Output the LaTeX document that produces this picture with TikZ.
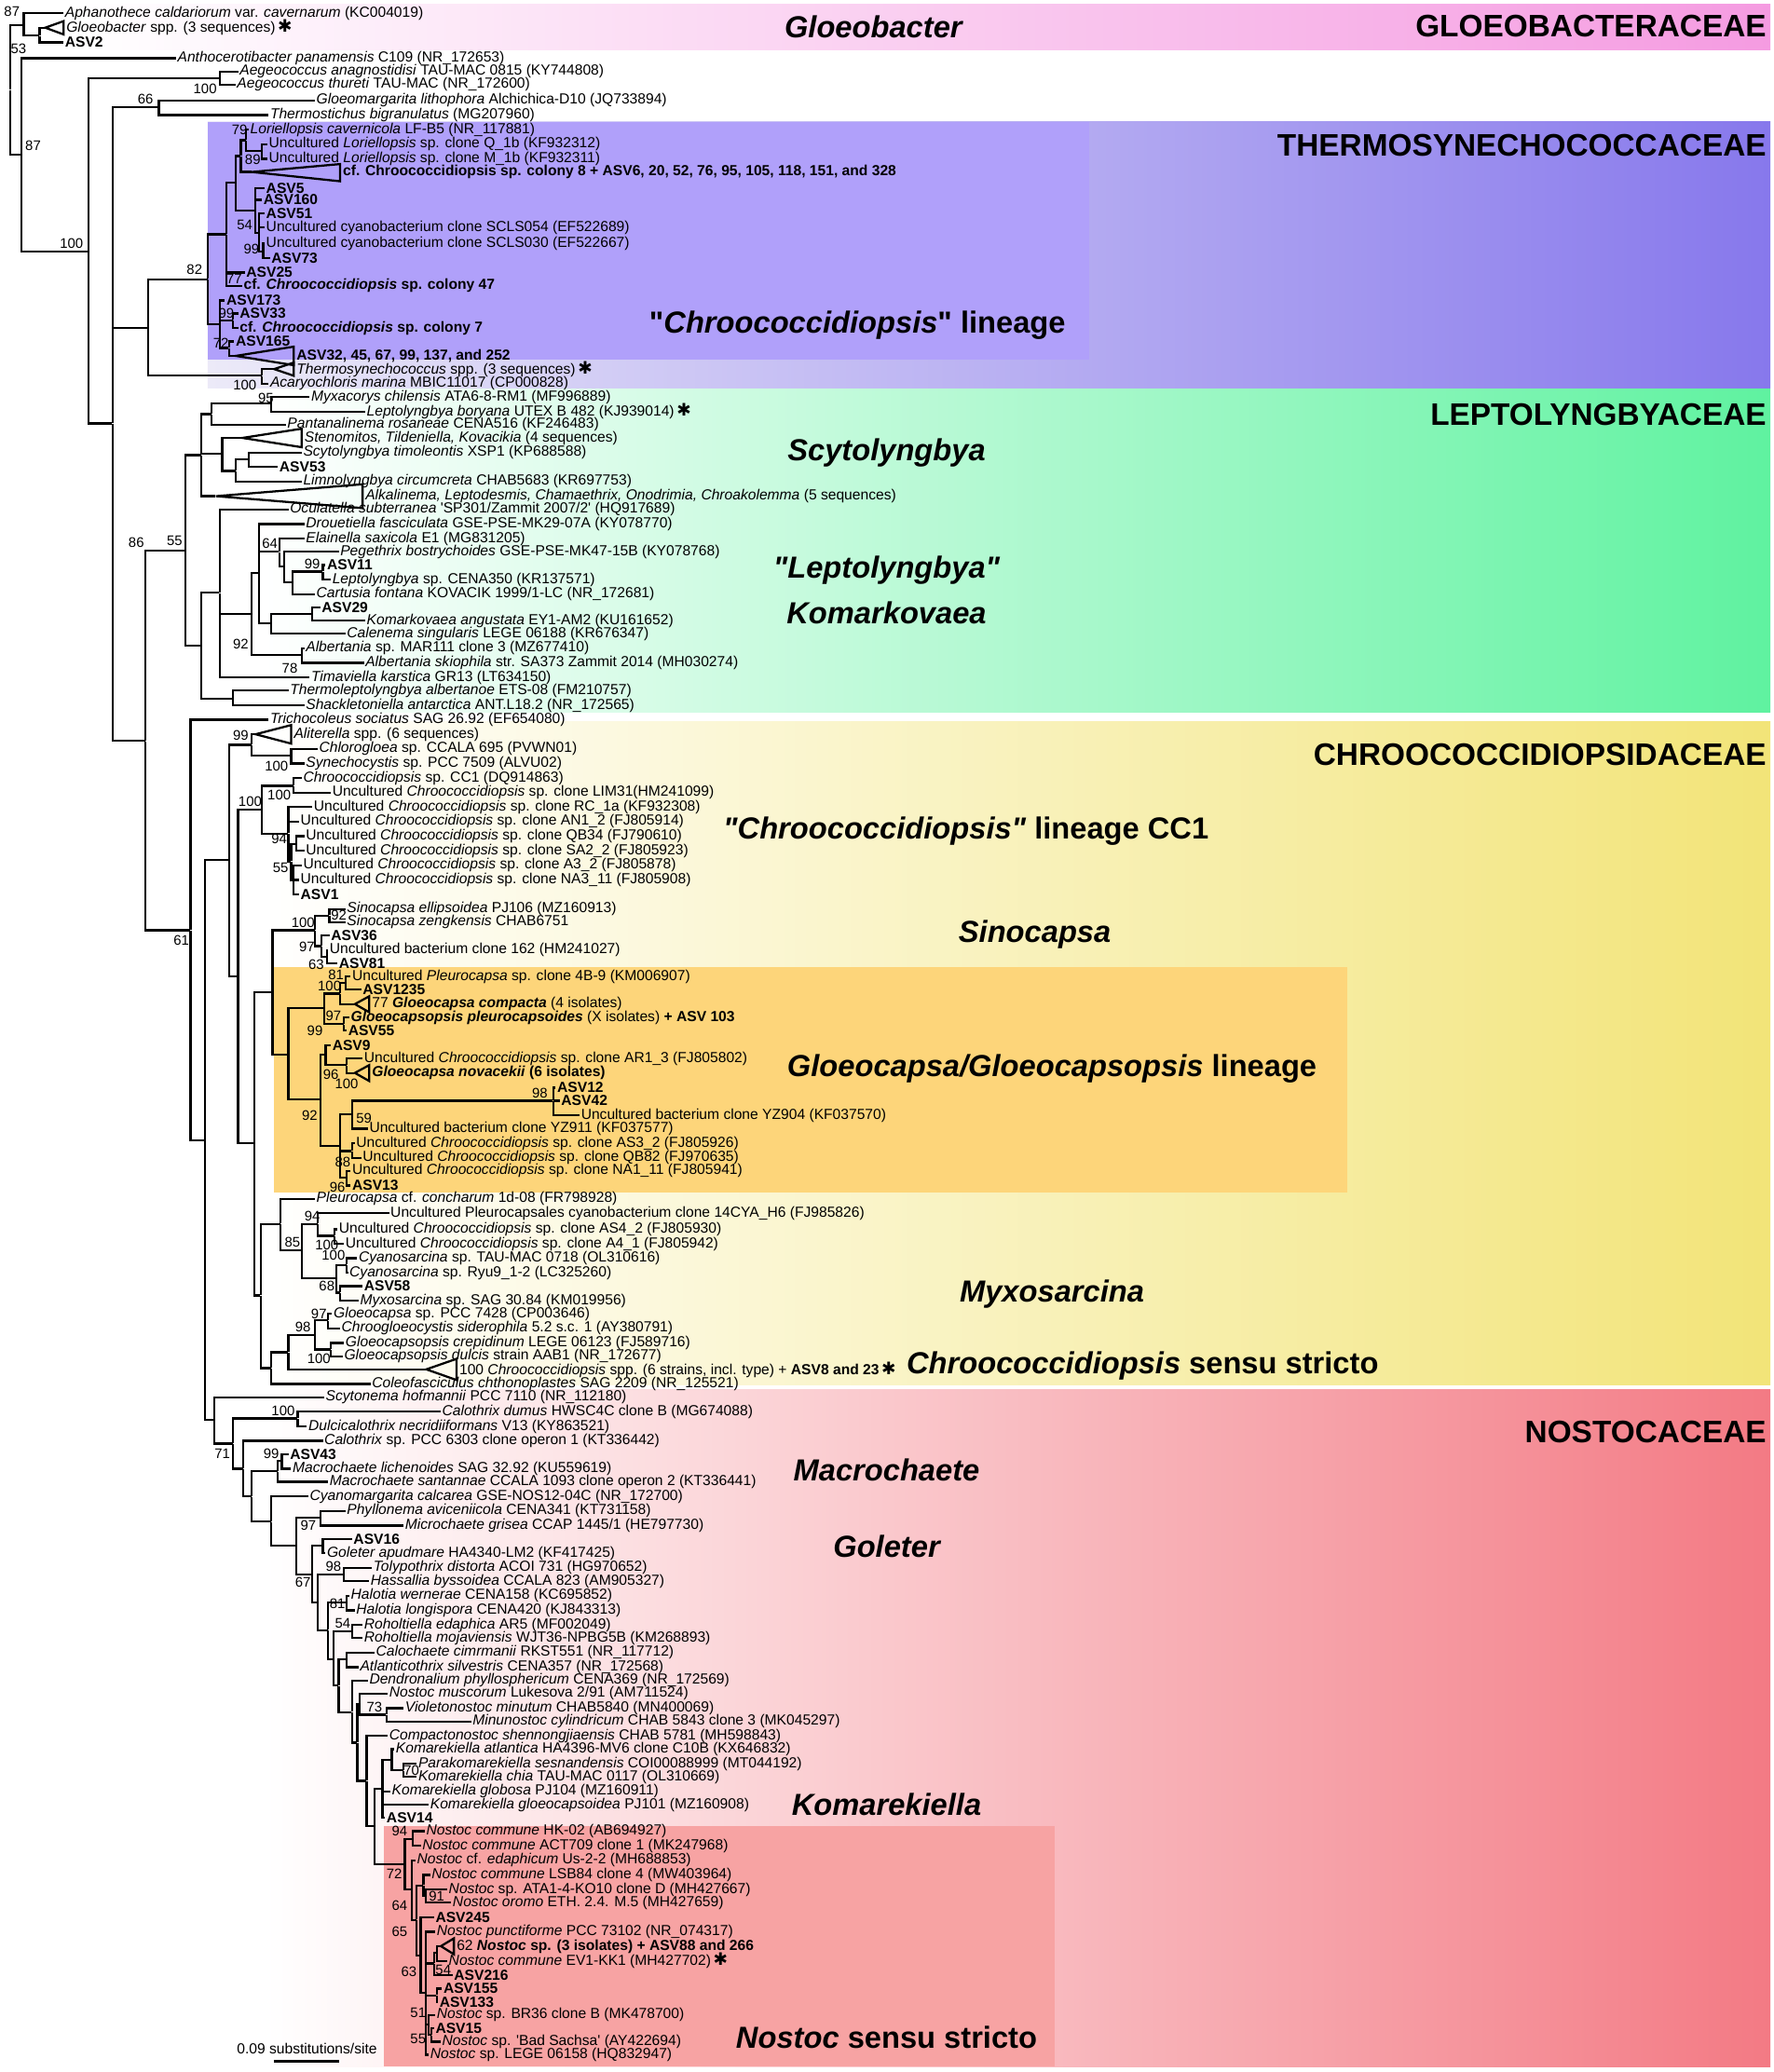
\documentclass[tikz,border=0pt]{standalone}
\usepackage{fontspec}
\setmainfont{Liberation Sans}
\newfontfamily\symf{DejaVu Sans}
\newcommand{\leaffont}{\fontsize{11}{12}\selectfont}
\newcommand{\starm}{\,{\symf\mdseries\upshape\fontsize{13}{13}\selectfont ✱}}
\definecolor{gloeoPink}{RGB}{245,155,225}
\definecolor{thermoLeft}{RGB}{236,234,248}
\definecolor{thermoMid}{RGB}{200,196,242}
\definecolor{thermoRight}{RGB}{135,120,236}
\definecolor{chrooBox}{RGB}{176,160,250}
\definecolor{leptoGreen}{RGB}{95,242,160}
\definecolor{chrooYellow}{RGB}{242,228,120}
\definecolor{gloeoBox}{RGB}{253,213,122}
\definecolor{nostoRed}{RGB}{243,122,132}
\definecolor{nostocBox}{RGB}{247,163,163}
\tikzset{
  br/.style={line width=1.6pt},
  leaf/.style={anchor=west, inner xsep=1pt, inner ysep=0pt, font=\leaffont},
  jn/.style={inner sep=0pt, minimum size=0pt},
  sup/.style={inner sep=0pt, font=\fontsize{10.5}{11}\selectfont},
  clade/.style={inner sep=0pt, font=\fontsize{23}{26}\selectfont\bfseries\itshape},
  fam/.style={anchor=east, inner sep=0pt, font=\fontsize{23.5}{26}\selectfont\bfseries},
}
\begin{document}
\begin{tikzpicture}[x=1pt, y=-1pt]
\useasboundingbox (0,0) rectangle (1340,1566);

% family bands
\shade[left color=white, right color=gloeoPink] (60,3) rectangle (1338,38);
\shade[left color=thermoLeft, middle color=thermoMid, right color=thermoRight] (157,92) rectangle (1338,293);
\fill[chrooBox] (157,92) rectangle (823,272);
\shade[left color=white, right color=leptoGreen] (200,294) rectangle (1338,538);
\shade[left color=white, right color=chrooYellow] (200,545) rectangle (1338,1047);
\fill[gloeoBox] (207,731) rectangle (1018,901);
\shade[left color=white, right color=nostoRed] (200,1050) rectangle (1338,1562);
\fill[nostocBox] (290,1380) rectangle (797,1562);

% leaves: Gloeobacteraceae and early branches
\node[leaf] (aph) at (48,10) {\textit{Aphanothece caldariorum} var. \textit{cavernarum} (KC004019)};
\node[leaf] (glo) at (49,21) {\textit{Gloeobacter} spp. (3 sequences)\starm};
\node[leaf] (asv2) at (48,32) {\textbf{ASV2}};
\node[leaf] (anth) at (133,44) {\textit{Anthocerotibacter panamensis} C109 (NR\_172653)};
\node[leaf] (aeg1) at (180,54) {\textit{Aegeococcus anagnostidisi} TAU-MAC 0815 (KY744808)};
\node[leaf] (aeg2) at (178,64) {\textit{Aegeococcus thureti} TAU-MAC (NR\_172600)};
\node[leaf] (glm) at (238,76) {\textit{Gloeomargarita lithophora} Alchichica-D10 (JQ733894)};
\node[leaf] (ths) at (203,87) {\textit{Thermostichus bigranulatus} (MG207960)};

% leaves: Thermosynechococcaceae
\node[leaf] (lor1) at (188,98) {\textit{Loriellopsis cavernicola} LF-B5 (NR\_117881)};
\node[leaf] (lor2) at (202,109) {Uncultured \textit{Loriellopsis} sp. clone Q\_1b (KF932312)};
\node[leaf] (lor3) at (202,120) {Uncultured \textit{Loriellopsis} sp. clone M\_1b (KF932311)};
\node[leaf] (col8) at (258,130) {\textbf{cf. Chroococcidiopsis sp. colony 8 + ASV6, 20, 52, 76, 95, 105, 118, 151, and 328}};
\node[leaf] (asv5) at (200,142) {\textbf{ASV5}};
\node[leaf] (asv160) at (198,151) {\textbf{ASV160}};
\node[leaf] (asv51) at (200,161) {\textbf{ASV51}};
\node[leaf] (scls054) at (200,172) {Uncultured cyanobacterium clone SCLS054 (EF522689)};
\node[leaf] (scls030) at (200,184) {Uncultured cyanobacterium clone SCLS030 (EF522667)};
\node[leaf] (asv73) at (204,195) {\textbf{ASV73}};
\node[leaf] (asv25) at (185,206) {\textbf{ASV25}};
\node[leaf] (col47) at (183,216) {\textbf{cf. \textit{Chroococcidiopsis} sp. colony 47}};
\node[leaf] (asv173) at (170,227) {\textbf{ASV173}};
\node[leaf] (asv33) at (180,237) {\textbf{ASV33}};
\node[leaf] (col7) at (180,248) {\textbf{cf. \textit{Chroococcidiopsis} sp. colony 7}};
\node[leaf] (asv165) at (177,258) {\textbf{ASV165}};
\node[leaf] (asv32) at (223,269) {\textbf{ASV32, 45, 67, 99, 137, and 252}};
\node[leaf] (thsy) at (223,279) {\textit{Thermosynechococcus} spp. (3 sequences)\starm};
\node[leaf] (acar) at (203,290) {\textit{Acaryochloris marina} MBIC11017 (CP000828)};

% leaves: Leptolyngbyaceae
\node[leaf] (myx) at (234,300) {\textit{Myxacorys chilensis} ATA6-8-RM1 (MF996889)};
\node[leaf] (lbor) at (276,311) {\textit{Leptolyngbya boryana} UTEX B 482 (KJ939014)\starm};
\node[leaf] (pant) at (216,321) {\textit{Pantanalinema rosaneae} CENA516 (KF246483)};
\node[leaf] (sten) at (229,331) {\textit{Stenomitos, Tildeniella, Kovacikia} (4 sequences)};
\node[leaf] (scyt) at (228,342) {\textit{Scytolyngbya timoleontis} XSP1 (KP688588)};
\node[leaf] (asv53) at (210,353) {\textbf{ASV53}};
\node[leaf] (limn) at (228,364) {\textit{Limnolyngbya circumcreta} CHAB5683 (KR697753)};
\node[leaf] (alka) at (275,375) {\textit{Alkalinema, Leptodesmis, Chamaethrix, Onodrimia, Chroakolemma} (5 sequences)};
\node[leaf] (ocul) at (218,385) {\textit{Oculatella subterranea} \textquotesingle SP301/Zammit 2007/2\textquotesingle{} (HQ917689)};
\node[leaf] (drou) at (230,396) {\textit{Drouetiella fasciculata} GSE-PSE-MK29-07A (KY078770)};
\node[leaf] (elai) at (230,407) {\textit{Elainella saxicola} E1 (MG831205)};
\node[leaf] (pege) at (256,417) {\textit{Pegethrix bostrychoides} GSE-PSE-MK47-15B (KY078768)};
\node[leaf] (asv11) at (246,427) {\textbf{ASV11}};
\node[leaf] (lcen) at (250,438) {\textit{Leptolyngbya} sp. CENA350 (KR137571)};
\node[leaf] (cart) at (238,449) {\textit{Cartusia fontana} KOVACIK 1999/1-LC (NR\_172681)};
\node[leaf] (asv29) at (242,459) {\textbf{ASV29}};
\node[leaf] (koma) at (276,469) {\textit{Komarkovaea angustata} EY1-AM2 (KU161652)};
\node[leaf] (cale) at (261,479) {\textit{Calenema singularis} LEGE 06188 (KR676347)};
\node[leaf] (alb1) at (230,490) {\textit{Albertania} sp. MAR111 clone 3 (MZ677410)};
\node[leaf] (alb2) at (275,501) {\textit{Albertania skiophila} str. SA373 Zammit 2014 (MH030274)};
\node[leaf] (tima) at (234,512) {\textit{Timaviella karstica} GR13 (LT634150)};
\node[leaf] (thle) at (218,522) {\textit{Thermoleptolyngbya albertanoe} ETS-08 (FM210757)};
\node[leaf] (shac) at (230,533) {\textit{Shackletoniella antarctica} ANT.L18.2 (NR\_172565)};

% leaves: Chroococcidiopsidaceae
\node[leaf] (tric) at (203,544) {\textit{Trichocoleus sociatus} SAG 26.92 (EF654080)};
\node[leaf] (alit) at (221,555) {\textit{Aliterella} spp. (6 sequences)};
\node[leaf] (chlo) at (240,566) {\textit{Chlorogloea} sp. CCALA 695 (PVWN01)};
\node[leaf] (syne) at (230,577) {\textit{Synechocystis} sp. PCC 7509 (ALVU02)};
\node[leaf] (cc1) at (228,588) {\textit{Chroococcidiopsis} sp. CC1 (DQ914863)};
\node[leaf] (lim31) at (250,599) {Uncultured \textit{Chroococcidiopsis} sp. clone LIM31(HM241099)};
\node[leaf] (rc1a) at (236,610) {Uncultured \textit{Chroococcidiopsis} sp. clone RC\_1a (KF932308)};
\node[leaf] (an12) at (226,621) {Uncultured \textit{Chroococcidiopsis} sp. clone AN1\_2 (FJ805914)};
\node[leaf] (qb34) at (230,632) {Uncultured \textit{Chroococcidiopsis} sp. clone QB34 (FJ790610)};
\node[leaf] (sa22) at (230,643) {Uncultured \textit{Chroococcidiopsis} sp. clone SA2\_2 (FJ805923)};
\node[leaf] (a32) at (228,654) {Uncultured \textit{Chroococcidiopsis} sp. clone A3\_2 (FJ805878)};
\node[leaf] (na311) at (226,665) {Uncultured \textit{Chroococcidiopsis} sp. clone NA3\_11 (FJ805908)};
\node[leaf] (asv1) at (226,676) {\textbf{ASV1}};
\node[leaf] (sinE) at (261,687) {\textit{Sinocapsa ellipsoidea} PJ106 (MZ160913)};
\node[leaf] (sinZ) at (261,697) {\textit{Sinocapsa zengkensis} CHAB6751};
\node[leaf] (asv36) at (249,707) {\textbf{ASV36}};
\node[leaf] (u162) at (248,718) {Uncultured bacterium clone 162 (HM241027)};
\node[leaf] (asv81) at (255,728) {\textbf{ASV81}};
\node[leaf] (pleu) at (265,738) {Uncultured \textit{Pleurocapsa} sp. clone 4B-9 (KM006907)};
\node[leaf] (asv1235) at (273,748) {\textbf{ASV1235}};
\node[leaf] (gcom) at (280,759) {77 \textbf{\textit{Gloeocapsa compacta}} (4 isolates)};
\node[leaf] (gple) at (264,769) {\textbf{\textit{Gloeocapsopsis pleurocapsoides}} (X isolates) \textbf{+ ASV 103}};
\node[leaf] (asv55) at (262,779) {\textbf{ASV55}};
\node[leaf] (asv9) at (250,790) {\textbf{ASV9}};
\node[leaf] (ar13) at (274,800) {Uncultured \textit{Chroococcidiopsis} sp. clone AR1\_3 (FJ805802)};
\node[leaf] (gnov) at (280,811) {\textbf{\textit{Gloeocapsa novacekii} (6 isolates)}};
\node[leaf] (asv12) at (420,822) {\textbf{ASV12}};
\node[leaf] (asv42) at (423,832) {\textbf{ASV42}};
\node[leaf] (yz904) at (438,843) {Uncultured bacterium clone YZ904 (KF037570)};
\node[leaf] (yz911) at (278,853) {Uncultured bacterium clone YZ911 (KF037577)};
\node[leaf] (as32) at (268,864) {Uncultured \textit{Chroococcidiopsis} sp. clone AS3\_2 (FJ805926)};
\node[leaf] (qb82) at (273,875) {Uncultured \textit{Chroococcidiopsis} sp. clone QB82 (FJ970635)};
\node[leaf] (na111) at (265,885) {Uncultured \textit{Chroococcidiopsis} sp. clone NA1\_11 (FJ805941)};
\node[leaf] (asv13) at (265,896) {\textbf{ASV13}};
\node[leaf] (pcon) at (238,906) {\textit{Pleurocapsa} cf. \textit{concharum} 1d-08 (FR798928)};
\node[leaf] (p14) at (294,917) {Uncultured Pleurocapsales cyanobacterium clone 14CYA\_H6 (FJ985826)};
\node[leaf] (as42) at (255,929) {Uncultured \textit{Chroococcidiopsis} sp. clone AS4\_2 (FJ805930)};
\node[leaf] (a41) at (260,940) {Uncultured \textit{Chroococcidiopsis} sp. clone A4\_1 (FJ805942)};
\node[leaf] (cyT) at (270,951) {\textit{Cyanosarcina} sp. TAU-MAC 0718 (OL310616)};
\node[leaf] (cyR) at (263,962) {\textit{Cyanosarcina} sp. Ryu9\_1-2 (LC325260)};
\node[leaf] (asv58) at (274,972) {\textbf{ASV58}};
\node[leaf] (myxo) at (271,983) {\textit{Myxosarcina} sp. SAG 30.84 (KM019956)};
\node[leaf] (g7428) at (251,993) {\textit{Gloeocapsa} sp. PCC 7428 (CP003646)};
\node[leaf] (chgl) at (257,1004) {\textit{Chroogloeocystis siderophila} 5.2 s.c. 1 (AY380791)};
\node[leaf] (crep) at (260,1015) {\textit{Gloeocapsopsis crepidinum} LEGE 06123 (FJ589716)};
\node[leaf] (dulc) at (259,1025) {\textit{Gloeocapsopsis dulcis} strain AAB1 (NR\_172677)};
\node[leaf] (chss) at (346,1035) {100 \textit{Chroococcidiopsis} spp. (6 strains, incl. type) + \textbf{ASV8 and 23}\starm};
\node[leaf] (cole) at (280,1046) {\textit{Coleofasciculus chthonoplastes} SAG 2209 (NR\_125521)};

% leaves: Nostocaceae
\node[leaf] (scho) at (245,1056) {\textit{Scytonema hofmannii} PCC 7110 (NR\_112180)};
\node[leaf] (cadu) at (333,1067) {\textit{Calothrix dumus} HWSC4C clone B (MG674088)};
\node[leaf] (dulci) at (232,1078) {\textit{Dulcicalothrix necridiiformans} V13 (KY863521)};
\node[leaf] (c6303) at (244,1089) {\textit{Calothrix} sp. PCC 6303 clone operon 1 (KT336442)};
\node[leaf] (asv43) at (218,1099) {\textbf{ASV43}};
\node[leaf] (mlic) at (220,1110) {\textit{Macrochaete lichenoides} SAG 32.92 (KU559619)};
\node[leaf] (msan) at (248,1120) {\textit{Macrochaete santannae} CCALA 1093 clone operon 2 (KT336441)};
\node[leaf] (cyca) at (233,1131) {\textit{Cyanomargarita calcarea} GSE-NOS12-04C (NR\_172700)};
\node[leaf] (phyl) at (261,1142) {\textit{Phyllonema aviceniicola} CENA341 (KT731158)};
\node[leaf] (micg) at (305,1153) {\textit{Microchaete grisea} CCAP 1445/1 (HE797730)};
\node[leaf] (asv16) at (266,1163) {\textbf{ASV16}};
\node[leaf] (gole) at (246,1174) {\textit{Goleter apudmare} HA4340-LM2 (KF417425)};
\node[leaf] (toly) at (281,1185) {\textit{Tolypothrix distorta} ACOI 731 (HG970652)};
\node[leaf] (hass) at (279,1195) {\textit{Hassallia byssoidea} CCALA 823 (AM905327)};
\node[leaf] (halw) at (264,1206) {\textit{Halotia wernerae} CENA158 (KC695852)};
\node[leaf] (hall) at (268,1217) {\textit{Halotia longispora} CENA420 (KJ843313)};
\node[leaf] (rohe) at (274,1228) {\textit{Roholtiella edaphica} AR5 (MF002049)};
\node[leaf] (rohm) at (274,1238) {\textit{Roholtiella mojaviensis} WJT36-NPBG5B (KM268893)};
\node[leaf] (calo) at (283,1249) {\textit{Calochaete cimrmanii} RKST551 (NR\_117712)};
\node[leaf] (atla) at (271,1260) {\textit{Atlanticothrix silvestris} CENA357 (NR\_172568)};
\node[leaf] (dend) at (278,1270) {\textit{Dendronalium phyllosphericum} CENA369 (NR\_172569)};
\node[leaf] (nmus) at (293,1280) {\textit{Nostoc muscorum} Lukesova 2/91 (AM711524)};
\node[leaf] (viol) at (305,1291) {\textit{Violetonostoc minutum} CHAB5840 (MN400069)};
\node[leaf] (minu) at (356,1301) {\textit{Minunostoc cylindricum} CHAB 5843 clone 3 (MK045297)};
\node[leaf] (comp) at (293,1312) {\textit{Compactonostoc shennongjiaensis} CHAB 5781 (MH598843)};
\node[leaf] (katl) at (298,1322) {\textit{Komarekiella atlantica} HA4396-MV6 clone C10B (KX646832)};
\node[leaf] (pkom) at (315,1333) {\textit{Parakomarekiella sesnandensis} COI00088999 (MT044192)};
\node[leaf] (kchi) at (315,1343) {\textit{Komarekiella chia} TAU-MAC 0117 (OL310669)};
\node[leaf] (kglo) at (295,1354) {\textit{Komarekiella globosa} PJ104 (MZ160911)};
\node[leaf] (kgle) at (324,1364) {\textit{Komarekiella gloeocapsoidea} PJ101 (MZ160908)};
\node[leaf] (asv14) at (291,1374) {\textbf{ASV14}};
\node[leaf] (nhk) at (321,1384) {\textit{Nostoc commune} HK-02 (AB694927)};
\node[leaf] (nact) at (318,1395) {\textit{Nostoc commune} ACT709 clone 1 (MK247968)};
\node[leaf] (neda) at (314,1406) {\textit{Nostoc} cf. \textit{edaphicum} Us-2-2 (MH688853)};
\node[leaf] (nlsb) at (325,1417) {\textit{Nostoc commune} LSB84 clone 4 (MW403964)};
\node[leaf] (nata) at (338,1428) {\textit{Nostoc} sp. ATA1-4-KO10 clone D (MH427667)};
\node[leaf] (noro) at (341,1438) {\textit{Nostoc oromo} ETH. 2.4. M.5 (MH427659)};
\node[leaf] (asv245) at (328,1449) {\textbf{ASV245}};
\node[leaf] (npun) at (329,1460) {\textit{Nostoc punctiforme} PCC 73102 (NR\_074317)};
\node[leaf] (nsp3) at (344,1471) {62 \textbf{\textit{Nostoc} sp. (3 isolates) + ASV88 and 266}};
\node[leaf] (nev1) at (338,1482) {\textit{Nostoc commune} EV1-KK1 (MH427702)\starm};
\node[leaf] (asv216) at (342,1493) {\textbf{ASV216}};
\node[leaf] (asv155) at (334,1503) {\textbf{ASV155}};
\node[leaf] (asv133) at (331,1513) {\textbf{ASV133}};
\node[leaf] (nbr) at (329,1523) {\textit{Nostoc} sp. BR36 clone B (MK478700)};
\node[leaf] (asv15) at (328,1533) {\textbf{ASV15}};
\node[leaf] (nbad) at (333,1543) {\textit{Nostoc} sp. \textquotesingle Bad Sachsa\textquotesingle{} (AY422694)};
\node[leaf] (nleg) at (324,1553) {\textit{Nostoc} sp. LEGE 06158 (HQ832947)};

% collapsed clades
\node[jn] (tglo) at (34,21) {};  \draw[br] (tglo) -- ++(14,-5) -- ++(0,10) -- cycle;
\node[jn] (t8) at (190,130) {};  \draw[br] (t8) -- ++(67,-6) -- ++(0,13) -- cycle;
\node[jn] (t32) at (178,269) {}; \draw[br] (t32) -- ++(44,-7) -- ++(0,14) -- cycle;
\node[jn] (tthsy) at (207,279) {}; \draw[br] (tthsy) -- ++(15,-5) -- ++(0,10) -- cycle;
\node[jn] (tsten) at (183,331) {}; \draw[br] (tsten) -- ++(45,-7) -- ++(0,14) -- cycle;
\node[jn] (talka) at (163,375) {}; \draw[br] (talka) -- ++(111,-9) -- ++(0,18) -- cycle;
\node[jn] (tali) at (193,555) {}; \draw[br] (tali) -- ++(27,-7) -- ++(0,14) -- cycle;
\node[jn] (tgc) at (268,759) {}; \draw[br] (tgc) -- ++(11,-6) -- ++(0,12) -- cycle;
\node[jn] (tgn) at (268,811) {}; \draw[br] (tgn) -- ++(11,-6) -- ++(0,12) -- cycle;
\node[jn] (tss) at (322,1035) {}; \draw[br] (tss) -- ++(23,-8) -- ++(0,16) -- cycle;
\node[jn] (tnsp) at (333,1471) {}; \draw[br] (tnsp) -- ++(10,-6) -- ++(0,12) -- cycle;

% internal nodes, Gloeobacteraceae and early branches
\node[jn] (jG2) at (30,27) {}; \draw[br] (jG2) |- (tglo) (jG2) |- (asv2.west);
\node[jn] (jG) at (18,19) {}; \draw[br] (jG) |- (aph.west) (jG) |- (jG2);
\node[jn] (jAeg) at (166,59) {}; \draw[br] (jAeg) |- (aeg1.west) (jAeg) |- (aeg2.west);
\node[jn] (j66) at (120,81) {}; \draw[br] (j66) |- (glm.west) (j66) |- (ths.west);

% internal nodes, Thermosynechococcaceae
\node[jn] (jLor2) at (198,114) {}; \draw[br] (jLor2) |- (lor2.west) (jLor2) |- (lor3.west);
\node[jn] (jLor) at (186,106) {}; \draw[br] (jLor) |- (lor1.west) (jLor) |- (jLor2);
\node[jn] (jTop) at (182,118) {}; \draw[br] (jTop) |- (jLor) (jTop) |- (t8);
\node[jn] (j99a) at (199,190) {}; \draw[br] (j99a) |- (scls030.west) (j99a) |- (asv73.west);
\node[jn] (j54) at (196,176) {}; \draw[br] (j54) |- (asv51.west) (j54) |- (scls054.west) (j54) |- (j99a);
\node[jn] (jA5) at (193,159) {}; \draw[br] (jA5) |- (asv5.west) (jA5) |- (asv160.west) (jA5) |- (j54);
\node[jn] (jMid) at (178,138) {}; \draw[br] (jMid) |- (jTop) (jMid) |- (jA5);
\node[jn] (j77) at (171,177) {}; \draw[br] (j77) |- (jMid) (j77) |- (asv25.west) (j77) |- (col47.west);
\node[jn] (j99b) at (176,242) {}; \draw[br] (j99b) |- (asv33.west) (j99b) |- (col7.west);
\node[jn] (j72) at (173,263) {}; \draw[br] (j72) |- (asv165.west) (j72) |- (t32);
\node[jn] (jLow) at (166,245) {}; \draw[br] (jLow) |- (asv173.west) (jLow) |- (j99b) (jLow) |- (j72);
\node[jn] (j82) at (157,211) {}; \draw[br] (j82) |- (j77) (j82) |- (jLow);
\node[jn] (jTA) at (198,284) {}; \draw[br] (jTA) |- (tthsy) (jTA) |- (acar.west);
\node[jn] (jTh) at (112,248) {}; \draw[br] (jTh) |- (j82) (jTh) |- (jTA);

% internal nodes, Leptolyngbyaceae
\node[jn] (j95) at (205,305) {}; \draw[br] (j95) |- (myx.west) (j95) |- (lbor.west);
\node[jn] (jMP) at (160,313) {}; \draw[br] (jMP) |- (j95) (jMP) |- (pant.west);
\node[jn] (jS1) at (188,347) {}; \draw[br] (jS1) |- (scyt.west) (jS1) |- (asv53.west);
\node[jn] (jS2) at (178,356) {}; \draw[br] (jS2) |- (jS1) (jS2) |- (limn.west);
\node[jn] (jS3) at (168,343) {}; \draw[br] (jS3) |- (tsten) (jS3) |- (jS2);
\node[jn] (jLepA) at (152,344) {}; \draw[br] (jLepA) |- (jMP) (jLepA) |- (jS3) (jLepA) |- (talka);
\node[jn] (j99c) at (244,432) {}; \draw[br] (j99c) |- (asv11.west) (j99c) |- (lcen.west);
\node[jn] (jCart) at (221,440) {}; \draw[br] (jCart) |- (j99c) (jCart) |- (cart.west);
\node[jn] (jPeg) at (215,428) {}; \draw[br] (jPeg) |- (pege.west) (jPeg) |- (jCart);
\node[jn] (j64) at (211,417) {}; \draw[br] (j64) |- (elai.west) (j64) |- (jPeg);
\node[jn] (jKom) at (236,464) {}; \draw[br] (jKom) |- (asv29.west) (jKom) |- (koma.west);
\node[jn] (jCal) at (205,471) {}; \draw[br] (jCal) |- (jKom) (jCal) |- (cale.west);
\node[jn] (jDr) at (196,433) {}; \draw[br] (jDr) |- (drou.west) (jDr) |- (j64) (jDr) |- (jCal);
\node[jn] (j78) at (228,495) {}; \draw[br] (j78) |- (alb1.west) (j78) |- (alb2.west);
\node[jn] (j92) at (190,464) {}; \draw[br] (j92) |- (jDr) (j92) |- (j78);
\node[jn] (jOc) at (166,448) {}; \draw[br] (jOc) |- (ocul.west) (jOc) |- (j92) (jOc) |- (tima.west);
\node[jn] (jThSh) at (176,528) {}; \draw[br] (jThSh) |- (thle.west) (jThSh) |- (shac.west);
\node[jn] (jLepB) at (152,488) {}; \draw[br] (jLepB) |- (jOc) (jLepB) |- (jThSh);
\node[jn] (j55) at (140,416) {}; \draw[br] (j55) |- (jLepA) (j55) |- (jLepB);

% internal nodes, Chroococcidiopsidaceae
\node[jn] (j100cs) at (220,571) {}; \draw[br] (j100cs) |- (chlo.west) (j100cs) |- (syne.west);
\node[jn] (j99Ali) at (190,563) {}; \draw[br] (j99Ali) |- (tali) (j99Ali) |- (j100cs);
\node[jn] (j100CC) at (222,594) {}; \draw[br] (j100CC) |- (cc1.west) (j100CC) |- (lim31.west);
\node[jn] (j94) at (224,638) {}; \draw[br] (j94) |- (qb34.west) (j94) |- (sa22.west);
\node[jn] (j55c) at (222,665) {}; \draw[br] (j55c) |- (a32.west) (j55c) |- (na311.west) (j55c) |- (asv1.west);
\node[jn] (jU2) at (220,651) {}; \draw[br] (jU2) |- (j94) (jU2) |- (j55c);
\node[jn] (jU1) at (218,630) {}; \draw[br] (jU1) |- (rc1a.west) (jU1) |- (an12.west) (jU1) |- (jU2);
\node[jn] (j100b) at (198,612) {}; \draw[br] (j100b) |- (j100CC) (j100b) |- (jU1);
\node[jn] (j92s) at (249,692) {}; \draw[br] (j92s) |- (sinE.west) (j92s) |- (sinZ.west);
\node[jn] (j63) at (247,723) {}; \draw[br] (j63) |- (u162.west) (j63) |- (asv81.west);
\node[jn] (j97) at (243,715) {}; \draw[br] (j97) |- (asv36.west) (j97) |- (j63);
\node[jn] (j100s) at (238,703) {}; \draw[br] (j100s) |- (j92s) (j100s) |- (j97);
\node[jn] (j81) at (261,743) {}; \draw[br] (j81) |- (pleu.west) (j81) |- (asv1235.west);
\node[jn] (j100g) at (257,751) {}; \draw[br] (j100g) |- (j81) (j100g) |- (tgc);
\node[jn] (j97g) at (260,774) {}; \draw[br] (j97g) |- (gple.west) (j97g) |- (asv55.west);
\node[jn] (j99) at (245,762) {}; \draw[br] (j99) |- (j100g) (j99) |- (j97g);
\node[jn] (j100n) at (262,805) {}; \draw[br] (j100n) |- (ar13.west) (j100n) |- (tgn);
\node[jn] (j96) at (246,797) {}; \draw[br] (j96) |- (asv9.west) (j96) |- (j100n);
\node[jn] (j98) at (418,832) {}; \draw[br] (j98) |- (asv12.west) (j98) |- (asv42.west) (j98) |- (yz904.west);
\node[jn] (j59) at (266,842) {}; \draw[br] (j59) |- (j98) (j59) |- (yz911.west);
\node[jn] (j88) at (266,870) {}; \draw[br] (j88) |- (as32.west) (j88) |- (qb82.west);
\node[jn] (j96b) at (262,890) {}; \draw[br] (j96b) |- (na111.west) (j96b) |- (asv13.west);
\node[jn] (jLowG) at (257,866) {}; \draw[br] (jLowG) |- (j59) (jLowG) |- (j88) (jLowG) |- (j96b);
\node[jn] (j92g) at (242,831) {}; \draw[br] (j92g) |- (j96) (j92g) |- (jLowG);
\node[jn] (jGloeo) at (218,797) {}; \draw[br] (jGloeo) |- (j99) (jGloeo) |- (j92g);
\node[jn] (jSinG) at (206,750) {}; \draw[br] (jSinG) |- (j100s) (jSinG) |- (jGloeo);
\node[jn] (j100a) at (253,934) {}; \draw[br] (j100a) |- (as42.west) (j100a) |- (a41.west);
\node[jn] (j94m) at (240,925) {}; \draw[br] (j94m) |- (p14.west) (j94m) |- (j100a);
\node[jn] (j100c) at (262,956) {}; \draw[br] (j100c) |- (cyT.west) (j100c) |- (cyR.west);
\node[jn] (j68) at (257,977) {}; \draw[br] (j68) |- (asv58.west) (j68) |- (myxo.west);
\node[jn] (jCy) at (254,966) {}; \draw[br] (jCy) |- (j100c) (jCy) |- (j68);
\node[jn] (j85) at (228,945) {}; \draw[br] (j85) |- (j94m) (j85) |- (jCy);
\node[jn] (jMyx) at (212,925) {}; \draw[br] (jMyx) |- (pcon.west) (jMyx) |- (j85);
\node[jn] (j97c) at (248,998) {}; \draw[br] (j97c) |- (g7428.west) (j97c) |- (chgl.west);
\node[jn] (j100d) at (250,1020) {}; \draw[br] (j100d) |- (crep.west) (j100d) |- (dulc.west);
\node[jn] (j98c) at (238,1009) {}; \draw[br] (j98c) |- (j97c) (j98c) |- (j100d);
\node[jn] (jSS) at (218,1022) {}; \draw[br] (jSS) |- (j98c) (jSS) |- (tss);
\node[jn] (jGS) at (205,1034) {}; \draw[br] (jGS) |- (jSS) (jGS) |- (cole.west);
\node[jn] (jLow2) at (197,979) {}; \draw[br] (jLow2) |- (jMyx) (jLow2) |- (jGS);
\node[jn] (jPM) at (192,864) {}; \draw[br] (jPM) |- (jSinG) (jPM) |- (jLow2);
\node[jn] (jCh2) at (180,738) {}; \draw[br] (jCh2) |- (j100b) (jCh2) |- (jPM);
\node[jn] (jCh1) at (173,650) {}; \draw[br] (jCh1) |- (j99Ali) (jCh1) |- (jCh2);

% internal nodes, Nostocaceae
\node[jn] (j100n2) at (225,1072) {}; \draw[br] (j100n2) |- (cadu.west) (j100n2) |- (dulci.west);
\node[jn] (j99m) at (213,1104) {}; \draw[br] (j99m) |- (asv43.west) (j99m) |- (mlic.west);
\node[jn] (jMac) at (210,1112) {}; \draw[br] (jMac) |- (j99m) (jMac) |- (msan.west);
\node[jn] (j97p) at (242,1147) {}; \draw[br] (j97p) |- (phyl.west) (j97p) |- (micg.west);
\node[jn] (j16) at (244,1168) {}; \draw[br] (j16) |- (asv16.west) (j16) |- (gole.west);
\node[jn] (j98t) at (260,1190) {}; \draw[br] (j98t) |- (toly.west) (j98t) |- (hass.west);
\node[jn] (j81h) at (262,1211) {}; \draw[br] (j81h) |- (halw.west) (j81h) |- (hall.west);
\node[jn] (j54r) at (266,1233) {}; \draw[br] (j54r) |- (rohe.west) (j54r) |- (rohm.west);
\node[jn] (jCalA) at (262,1254) {}; \draw[br] (jCalA) |- (calo.west) (jCalA) |- (atla.west);
\node[jn] (j73) at (292,1296) {}; \draw[br] (j73) |- (viol.west) (j73) |- (minu.west);
\node[jn] (jNm) at (272,1288) {}; \draw[br] (jNm) |- (nmus.west) (jNm) |- (j73);
\node[jn] (j70) at (305,1338) {}; \draw[br] (j70) |- (pkom.west) (j70) |- (kchi.west);
\node[jn] (jK1) at (296,1330) {}; \draw[br] (jK1) |- (katl.west) (jK1) |- (j70);
\node[jn] (jK2) at (289,1352) {}; \draw[br] (jK2) |- (jK1) (jK2) |- (kglo.west) (jK2) |- (kgle.west) (jK2) |- (asv14.west);
\node[jn] (j94n) at (312,1390) {}; \draw[br] (j94n) |- (nhk.west) (j94n) |- (nact.west);
\node[jn] (j91) at (322,1433) {}; \draw[br] (j91) |- (nata.west) (j91) |- (noro.west);
\node[jn] (jL) at (320,1425) {}; \draw[br] (jL) |- (nlsb.west) (jL) |- (j91);
\node[jn] (j62) at (330,1476) {}; \draw[br] (j62) |- (tnsp) (j62) |- (nev1.west);
\node[jn] (j54n) at (328,1484) {}; \draw[br] (j54n) |- (j62) (j54n) |- (asv216.west);
\node[jn] (j155) at (330,1508) {}; \draw[br] (j155) |- (asv155.west) (j155) |- (asv133.west);
\node[jn] (j55n) at (326,1538) {}; \draw[br] (j55n) |- (asv15.west) (j55n) |- (nbad.west);
\node[jn] (j51) at (324,1530) {}; \draw[br] (j51) |- (nbr.west) (j51) |- (j55n);
\node[jn] (j63n) at (322,1506) {}; \draw[br] (j63n) |- (npun.west) (j63n) |- (j54n) (j63n) |- (j155) (j63n) |- (j51) (j63n) |- (nleg.west);
\node[jn] (j65) at (318,1478) {}; \draw[br] (j65) |- (asv245.west) (j65) |- (j63n);
\node[jn] (j64n) at (315,1451) {}; \draw[br] (j64n) |- (jL) (j64n) |- (j65);
\node[jn] (j72n) at (311,1428) {}; \draw[br] (j72n) |- (neda.west) (j72n) |- (j64n);
\node[jn] (jNb) at (306,1409) {}; \draw[br] (jNb) |- (j94n) (jNb) |- (j72n);
\node[jn] (jKN) at (283,1380) {}; \draw[br] (jKN) |- (jK2) (jKN) |- (jNb);
\node[jn] (jCmp) at (277,1346) {}; \draw[br] (jCmp) |- (comp.west) (jCmp) |- (jKN);
\node[jn] (jNm2) at (270,1317) {}; \draw[br] (jNm2) |- (jNm) (jNm2) |- (jCmp);
\node[jn] (jDe) at (266,1294) {}; \draw[br] (jDe) |- (dend.west) (jDe) |- (jNm2);
\node[jn] (jCA2) at (256,1274) {}; \draw[br] (jCA2) |- (jCalA) (jCA2) |- (jDe);
\node[jn] (jR54) at (252,1254) {}; \draw[br] (jR54) |- (j54r) (jR54) |- (jCA2);
\node[jn] (jH) at (248,1232) {}; \draw[br] (jH) |- (j81h) (jH) |- (jR54);
\node[jn] (j67) at (240,1211) {}; \draw[br] (j67) |- (j98t) (j67) |- (jH);
\node[jn] (jG16) at (236,1190) {}; \draw[br] (jG16) |- (j16) (jG16) |- (j67);
\node[jn] (jPh) at (224,1168) {}; \draw[br] (jPh) |- (j97p) (jPh) |- (jG16);
\node[jn] (jCy2) at (205,1150) {}; \draw[br] (jCy2) |- (cyca.west) (jCy2) |- (jPh);
\node[jn] (jMC) at (190,1131) {}; \draw[br] (jMC) |- (jMac) (jMC) |- (jCy2);
\node[jn] (jCal2) at (184,1110) {}; \draw[br] (jCal2) |- (c6303.west) (jCal2) |- (jMC);
\node[jn] (j71) at (176,1091) {}; \draw[br] (j71) |- (j100n2) (j71) |- (jCal2);
\node[jn] (jNos) at (162,1073) {}; \draw[br] (jNos) |- (scho.west) (jNos) |- (j71);

% backbone
\node[jn] (jChN) at (155,862) {}; \draw[br] (jChN) |- (jCh1) (jChN) |- (jNos);
\node[jn] (j61) at (144,703) {}; \draw[br] (j61) |- (tric.west) (j61) |- (jChN);
\node[jn] (j86) at (110,560) {}; \draw[br] (j86) |- (j55) (j86) |- (j61);
\node[jn] (jC) at (85,320) {}; \draw[br] (jC) |- (j66) (jC) |- (jTh) (jC) |- (j86);
\node[jn] (jB) at (67,190) {}; \draw[br] (jB) |- (jAeg) (jB) |- (jC);
\node[jn] (jAn) at (16,117) {}; \draw[br] (jAn) |- (anth.west) (jAn) |- (jB);
\node[jn] (jRoot) at (8,68) {}; \draw[br] (jRoot) |- (jG) (jRoot) |- (jAn);

% support values
\node[sup] at (9,9) {87};
\node[sup] at (14,37) {53};
\node[sup] at (25,110) {87};
\node[sup] at (54,184) {100};
\node[sup] at (155,67) {100};
\node[sup] at (110,75) {66};
\node[sup] at (181,98) {79};
\node[sup] at (191,121) {89};
\node[sup] at (185,170) {54};
\node[sup] at (190,188) {99};
\node[sup] at (177,211) {77};
\node[sup] at (147,204) {82};
\node[sup] at (171,237) {99};
\node[sup] at (167,259) {72};
\node[sup] at (185,291) {100};
\node[sup] at (201,301) {95};
\node[sup] at (103,410) {86};
\node[sup] at (132,409) {55};
\node[sup] at (204,411) {64};
\node[sup] at (236,426) {99};
\node[sup] at (182,487) {92};
\node[sup] at (219,505) {78};
\node[sup] at (182,556) {99};
\node[sup] at (209,579) {100};
\node[sup] at (211,601) {100};
\node[sup] at (189,606) {100};
\node[sup] at (211,634) {94};
\node[sup] at (212,656) {55};
\node[sup] at (256,692) {92};
\node[sup] at (229,697) {100};
\node[sup] at (232,716) {97};
\node[sup] at (239,729) {63};
\node[sup] at (137,711) {61};
\node[sup] at (254,737) {81};
\node[sup] at (249,745) {100};
\node[sup] at (252,768) {97};
\node[sup] at (238,779) {99};
\node[sup] at (250,812) {96};
\node[sup] at (262,819) {100};
\node[sup] at (408,826) {98};
\node[sup] at (275,845) {59};
\node[sup] at (234,843) {92};
\node[sup] at (259,878) {88};
\node[sup] at (255,897) {96};
\node[sup] at (236,919) {94};
\node[sup] at (221,939) {85};
\node[sup] at (247,941) {100};
\node[sup] at (252,949) {100};
\node[sup] at (247,972) {68};
\node[sup] at (241,993) {97};
\node[sup] at (229,1003) {98};
\node[sup] at (241,1027) {100};
\node[sup] at (214,1066) {100};
\node[sup] at (205,1099) {99};
\node[sup] at (168,1099) {71};
\node[sup] at (233,1153) {97};
\node[sup] at (252,1184) {98};
\node[sup] at (229,1196) {67};
\node[sup] at (255,1212) {81};
\node[sup] at (259,1227) {54};
\node[sup] at (283,1290) {73};
\node[sup] at (311,1338) {70};
\node[sup] at (302,1384) {94};
\node[sup] at (298,1416) {72};
\node[sup] at (330,1433) {91};
\node[sup] at (302,1440) {64};
\node[sup] at (302,1460) {65};
\node[sup] at (309,1490) {63};
\node[sup] at (335,1489) {54};
\node[sup] at (316,1521) {51};
\node[sup] at (316,1541) {55};

% clade and family names
\node[clade] (nGloeo) at (660,20) {Gloeobacter};
\node[fam] (fGloeo) at (1335,20) {GLOEOBACTERACEAE};
\node[fam] (fThermo) at (1335,110) {THERMOSYNECHOCOCCACEAE};
\node[clade] (nChrooL) at (648,246) {{\upshape\textquotedbl}Chroococcidiopsis{\upshape\textquotedbl{} lineage}};
\node[fam] (fLepto) at (1335,313) {LEPTOLYNGBYACEAE};
\node[clade] (nScyto) at (670,342) {Scytolyngbya};
\node[clade] (nLepto) at (670,431) {\textquotedbl Leptolyngbya\textquotedbl};
\node[clade] (nKomk) at (670,463) {Komarkovaea};
\node[fam] (fChroo) at (1335,570) {CHROOCOCCIDIOPSIDACEAE};
\node[clade] (nCC1) at (730,628) {\textquotedbl Chroococcidiopsis\textquotedbl{}{\upshape{} lineage CC1}};
\node[clade] (nSino) at (782,706) {Sinocapsa};
\node[clade] (nGlLin) at (795,808) {Gloeocapsa/Gloeocapsopsis{\upshape{} lineage}};
\node[clade] (nMyxo) at (795,978) {Myxosarcina};
\node[clade, anchor=west] (nChSS) at (685,1032) {Chroococcidiopsis{\upshape{} sensu stricto}};
\node[fam] (fNosto) at (1335,1082) {NOSTOCACEAE};
\node[clade] (nMacro) at (670,1111) {Macrochaete};
\node[clade] (nGole) at (670,1169) {Goleter};
\node[clade] (nKomr) at (670,1364) {Komarekiella};
\node[clade] (nNoss) at (670,1540) {Nostoc{\upshape{} sensu stricto}};

% scale bar
\node[leaf, anchor=center] (sbText) at (232,1548) {0.09 substitutions/site};
\coordinate (sbL) at (207,1558);
\coordinate (sbR) at (256,1558);
\draw[line width=2pt] (sbL) -- (sbR);
\end{tikzpicture}
\end{document}
